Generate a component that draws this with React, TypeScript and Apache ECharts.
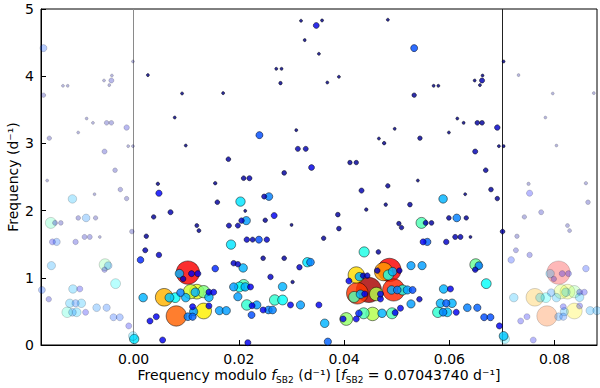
import React, { useEffect, useRef } from 'react';
import * as echarts from 'echarts';

const F_SB2 = 0.0704374;
const X_MIN = -F_SB2 / 4;
const X_MAX = F_SB2 * 1.25;

const xTitle = 'Frequency modulo {i|f}{sub|SB2} (d⁻¹) [{i|f}{sub|SB2} = 0.07043740 d⁻¹]';
const yTitle = 'Frequency (d⁻¹)';

// frequency modulo f_SB2 (d^-1)
const freqModulo = [
  0.0318, 0.0347, 0.0325, 0.0352, 0.0027, 0.0271, 0.0281, 0.0279, 0.0092, 0.0170,
  0.0078, 0.0239, 0.0309, 0.0099, 0.0312, 0.0327, 0.0180, 0.0286, 0.0338, 0.0209,
  0.0220, 0.0046, 0.0048, 0.0155, 0.0248, 0.0257, 0.0358, 0.0483, 0.0533, 0.0703,
  0.0390, 0.0368, 0.0570, 0.0579, 0.0533, 0.0648, 0.0663, 0.0662, 0.0658, 0.0615,
  0.0627, 0.0653, 0.0662, 0.0691, 0.0496, 0.0599, 0.0466, 0.0476, 0.0544, 0.0694,
  0.0703, 0.0649, 0.0411, 0.0423, 0.0669, 0.0540, 0.0483, 0.0433, 0.0679, 0.0691,
  0.0630, 0.0588, 0.0479, 0.0525, 0.0442, 0.0388, 0.0390, 0.0361, 0.0504, 0.0509,
  0.0547, 0.0555, 0.0566, 0.0599, 0.0614, 0.0632, 0.0701, 0.0611, 0.0621, 0.0640,
  0.0550, 0.0558, 0.0594, 0.0438, 0.0465, 0.0527, 0.0548, 0.0650, 0.0656, 0.0649,
  0.0670, 0.0486, 0.0475, 0.0484, 0.0492, 0.0505, 0.0463, 0.0423, 0.0436, 0.0444,
  0.0409, 0.0429, 0.0425, 0.0447, 0.0419, 0.0439, 0.0431, 0.0461, 0.0469, 0.0469,
  0.0494, 0.0490, 0.0501, 0.0511, 0.0520, 0.0530, 0.0543, 0.0527, 0.0507, 0.0497,
  0.0491, 0.0472, 0.0454, 0.0437, 0.0404, 0.0398, 0.0423, 0.0428, 0.0589, 0.0602,
  0.0583, 0.0594, 0.0605, 0.0578, 0.0588, 0.0596, 0.0613, 0.0634, 0.0653, 0.0666,
  0.0678, 0.0695, 0.0703, 0.0352, 0.0363, 0.0369, 0.0070, 0.0038, 0.0159, 0.0203,
  0.0212, 0.0205, 0.0214, 0.0250, 0.0267, 0.0300, 0.0181, 0.0198, 0.0120, 0.0124,
  0.0024, 0.0048, 0.0022, 0.0013, 0.0185, 0.0215, 0.0226, 0.0238, 0.0253, 0.0246,
  0.0286, 0.0330, 0.0336, 0.0315, 0.0155, 0.0190, 0.0198, 0.0208, 0.0103, 0.0087,
  0.0110, 0.0122, 0.0094, 0.0260, 0.0302, 0.0283, 0.0190, 0.0201, 0.0209, 0.0212,
  0.0222, 0.0198, 0.0058, 0.0018, 0.0068, 0.0079, 0.0089, 0.0099, 0.0108, 0.0120,
  0.0133, 0.0117, 0.0143, 0.0152, 0.0143, 0.0081, 0.0133, 0.0112, 0.0114, 0.0103,
  0.0112, 0.0143, 0.0163, 0.0176, 0.0031, 0.0043, 0.0055, 0.0001, 0.0217, 0.0215,
  0.0225, 0.0234, 0.0224, 0.0246, 0.0256, 0.0264, 0.0268, 0.0283, 0.0298, 0.0317,
];

// frequency (d^-1)
const frequency = [
  4.825, 4.755, 4.537, 4.333, 4.016, 4.110, 4.110, 3.897, 3.743, 3.748,
  3.385, 3.123, 3.197, 2.968, 2.919, 2.919, 2.765, 2.561, 2.641, 2.482,
  2.482, 2.398, 2.259, 2.408, 2.209, 2.209, 4.830, 4.840, 4.418, 4.219,
  3.991, 3.906, 3.857, 3.857, 3.718, 3.936, 4.010, 3.936, 3.867, 3.370,
  3.306, 3.306, 3.306, 3.236, 3.217, 3.162, 3.072, 3.004, 3.078, 2.959,
  2.959, 2.879, 2.715, 2.715, 2.601, 2.447, 2.368, 2.298, 2.313, 2.179,
  2.244, 2.174, 2.089, 2.089, 2.015, 1.940, 1.732, 1.589, 1.807, 1.747,
  1.817, 1.817, 1.817, 1.891, 1.891, 1.891, 1.688, 1.608, 1.608, 1.608,
  1.534, 1.534, 1.534, 1.385, 1.385, 1.181, 1.181, 1.196, 1.181, 1.121,
  0.913, 1.117, 1.092, 1.042, 1.092, 1.107, 1.107, 1.042, 1.032, 1.032,
  0.953, 1.017, 0.770, 0.819, 0.715, 0.759, 0.755, 0.759, 0.685, 0.759,
  0.819, 0.819, 0.819, 0.819, 0.819, 0.819, 0.681, 0.611, 0.547, 0.481,
  0.472, 0.472, 0.462, 0.472, 0.387, 0.387, 0.387, 0.472, 0.834, 0.834,
  0.621, 0.621, 0.621, 0.487, 0.487, 0.487, 0.487, 0.555, 0.555, 0.413,
  0.413, 0.284, 0.134, 0.596, 0.323, 0.049, 1.976, 1.906, 2.125, 2.134,
  1.996, 1.851, 1.851, 1.857, 1.926, 1.787, 1.777, 1.777, 1.777, 1.702,
  1.619, 1.340, 1.410, 1.266, 1.494, 1.568, 1.568, 1.568, 1.568, 1.291,
  1.291, 1.232, 1.232, 1.157, 1.137, 1.217, 1.202, 1.147, 1.077, 1.062,
  1.062, 1.062, 0.983, 1.013, 0.938, 0.868, 0.864, 0.864, 0.894, 0.864,
  0.864, 0.719, 0.710, 0.705, 0.705, 0.705, 0.779, 0.705, 0.794, 0.794,
  0.794, 0.785, 0.785, 0.785, 0.710, 0.432, 0.506, 0.570, 0.496, 0.421,
  0.421, 0.581, 0.511, 0.511, 0.357, 0.421, 0.074, 0.089, 0.034, 0.596,
  0.585, 0.596, 0.447, 0.521, 0.521, 0.521, 0.670, 0.670, 0.596, 0.596,
];

// relative amplitude (0..1), drives size and colour
const amplitude = [
  0.04, 0.14, 0.04, 0.04, 0.04, 0.04, 0.04, 0.05, 0.04, 0.04,
  0.04, 0.20, 0.04, 0.04, 0.10, 0.10, 0.08, 0.08, 0.14, 0.08,
  0.10, 0.05, 0.16, 0.05, 0.10, 0.25, 0.04, 0.04, 0.20, 0.04,
  0.04, 0.04, 0.04, 0.04, 0.07, 0.04, 0.04, 0.10, 0.04, 0.04,
  0.04, 0.08, 0.08, 0.12, 0.04, 0.04, 0.04, 0.05, 0.07, 0.04,
  0.04, 0.10, 0.07, 0.07, 0.08, 0.04, 0.07, 0.10, 0.08, 0.07,
  0.04, 0.30, 0.05, 0.08, 0.05, 0.08, 0.08, 0.07, 0.07, 0.07,
  0.45, 0.10, 0.08, 0.08, 0.25, 0.07, 0.08, 0.10, 0.10, 0.04,
  0.15, 0.22, 0.12, 0.40, 0.08, 0.28, 0.28, 0.48, 0.25, 0.12,
  0.38, 0.88, 0.72, 0.40, 0.30, 0.12, 0.12, 0.66, 0.12, 0.12,
  0.15, 0.30, 0.82, 0.96, 0.45, 0.15, 0.30, 0.55, 0.15, 0.15,
  0.84, 0.30, 0.25, 0.40, 0.28, 0.20, 0.12, 0.28, 0.15, 0.15,
  0.45, 0.30, 0.55, 0.45, 0.52, 0.15, 0.15, 0.18, 0.30, 0.15,
  0.30, 0.22, 0.30, 0.42, 0.25, 0.32, 0.15, 0.25, 0.22, 0.20,
  0.20, 0.15, 0.32, 0.15, 0.30, 0.22, 0.10, 0.07, 0.08, 0.35,
  0.04, 0.12, 0.28, 0.07, 0.15, 0.04, 0.10, 0.10, 0.06, 0.06,
  0.07, 0.12, 0.10, 0.18, 0.35, 0.12, 0.10, 0.20, 0.12, 0.08,
  0.08, 0.35, 0.25, 0.12, 0.18, 0.12, 0.12, 0.30, 0.88, 0.30,
  0.15, 0.15, 0.12, 0.12, 0.05, 0.30, 0.28, 0.38, 0.45, 0.30,
  0.15, 0.28, 0.70, 0.30, 0.32, 0.38, 0.25, 0.30, 0.58, 0.60,
  0.50, 0.30, 0.15, 0.15, 0.30, 0.78, 0.64, 0.15, 0.28, 0.25,
  0.22, 0.15, 0.28, 0.28, 0.15, 0.15, 0.15, 0.35, 0.15, 0.42,
  0.15, 0.28, 0.20, 0.15, 0.25, 0.25, 0.42, 0.38, 0.15, 0.28,
];

const sizeStops = [0, 0.04, 0.07, 0.12, 0.2, 0.3, 0.45, 0.65, 0.8, 0.9, 1];
const sizeValues = [2.5, 3, 4.5, 5.5, 7, 8.5, 11, 16, 21, 24, 26];

function sizeFor(a: number): number {
  for (let i = 1; i < sizeStops.length; i++) {
    if (a <= sizeStops[i]) {
      const t = (a - sizeStops[i - 1]) / (sizeStops[i] - sizeStops[i - 1]);
      return sizeValues[i - 1] + t * (sizeValues[i] - sizeValues[i - 1]);
    }
  }
  return sizeValues[sizeValues.length - 1];
}

function clamp01(v: number) {
  return Math.max(0, Math.min(1, v));
}

function jet(v: number): string {
  const r = clamp01(1.5 - Math.abs(4 * v - 3));
  const g = clamp01(1.5 - Math.abs(4 * v - 2));
  const b = clamp01(1.5 - Math.abs(4 * v - 1));
  return `rgb(${Math.round(r * 255)},${Math.round(g * 255)},${Math.round(b * 255)})`;
}

function colorFor(a: number): string {
  const c = a >= 0.2 ? a : (a * a) / 0.2;
  return jet(c);
}

const FONT = 'DejaVu Sans';

export default function App() {
  const ref = useRef<HTMLDivElement>(null);

  useEffect(() => {
    document.body.style.margin = '0';
    if (!ref.current) return;
    const chart = echarts.init(ref.current, null, { renderer: 'svg' });

    const items: any[] = [];
    for (let i = 0; i < freqModulo.length; i++) {
      const x = freqModulo[i];
      const y = frequency[i];
      const a = amplitude[i];
      items.push({ value: [x, y, a] });
      if (x - F_SB2 >= X_MIN) {
        items.push({ value: [x - F_SB2, y, a], itemStyle: { opacity: 0.28 } });
      }
      if (x + F_SB2 <= X_MAX) {
        items.push({ value: [x + F_SB2, y, a], itemStyle: { opacity: 0.28 } });
      }
    }
    items.sort((p, q) => q.value[2] - p.value[2]);

    chart.setOption({
      animation: false,
      backgroundColor: '#fff',
      grid: {
        left: 41, top: 9, width: 556, height: 336,
        outerBoundsMode: 'none',
        show: true, borderColor: '#000', borderWidth: 1, backgroundColor: 'transparent',
      },
      graphic: [
        {
          type: 'text',
          x: 319,
          y: 375,
          silent: true,
          style: {
            text: xTitle,
            fontSize: 14,
            fontFamily: FONT,
            fill: '#000',
            align: 'center',
            verticalAlign: 'middle',
            lineHeight: 18,
            rich: {
              i: { fontSize: 14, fontFamily: FONT, fontStyle: 'italic', fill: '#000', lineHeight: 18 },
              sub: { fontSize: 9, fontFamily: FONT, fill: '#000', lineHeight: 11, verticalAlign: 'bottom' },
            },
          },
        },
        {
          type: 'text',
          x: 13,
          y: 177,
          rotation: Math.PI / 2,
          silent: true,
          style: {
            text: yTitle,
            fontSize: 14,
            fontFamily: FONT,
            fill: '#000',
            align: 'center',
            verticalAlign: 'middle',
          },
        },
      ],
      xAxis: {
        type: 'value',
        position: 'bottom',
        min: X_MIN,
        max: X_MAX,
        splitLine: { show: false },
        axisLine: { show: true, onZero: false, lineStyle: { color: '#000', width: 1 } },
        axisTick: { show: true, inside: true, length: 5, lineStyle: { color: '#000', width: 1 } },
        axisLabel: {
          showMinLabel: false,
          showMaxLabel: false,
          formatter: (v: number) => Number(v).toFixed(2),
          fontSize: 14,
          fontFamily: FONT,
          color: '#000',
          margin: 7,
        },
      },
      yAxis: {
        type: 'value',
        position: 'left',
        min: 0,
        max: 5,
        interval: 1,
        splitLine: { show: false },
        axisLine: { show: true, onZero: false, lineStyle: { color: '#000', width: 1 } },
        axisTick: { show: true, inside: true, length: 5, lineStyle: { color: '#000', width: 1 } },
        axisLabel: { fontSize: 14, fontFamily: FONT, color: '#000', margin: 7 },
      },
      series: [
        {
          type: 'scatter',
          z: 2,
          data: items,
          symbol: 'circle',
          symbolSize: (v: number[]) => sizeFor(v[2]),
          itemStyle: {
            color: (p: any) => colorFor(p.value[2]),
            borderColor: '#000',
            borderWidth: 0.6,
            opacity: 0.82,
          },
          markLine: {
            silent: true,
            symbol: 'none',
            label: { show: false },
            animation: false,
            z: 1,
            data: [
              { xAxis: 0, lineStyle: { color: '#8a8a8a', width: 1, type: 'solid', opacity: 1 } },
              { xAxis: F_SB2, lineStyle: { color: '#222', width: 1, type: 'solid', opacity: 1 } },
            ],
          },
        },
      ],
    });

    return () => chart.dispose();
  }, []);

  return <div ref={ref} style={{ width: 600, height: 388 }} />;
}
